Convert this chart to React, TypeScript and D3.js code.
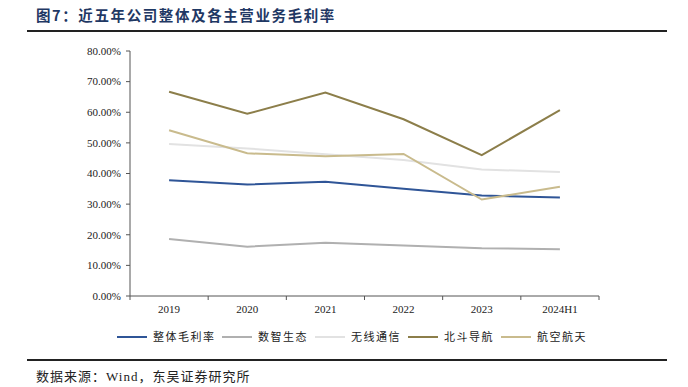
import * as d3 from 'd3';
import React from 'react';

const W = 688;
const H = 387;

const years = ['2019', '2020', '2021', '2022', '2023', '2024H1'];
const yTicks = [0, 10, 20, 30, 40, 50, 60, 70, 80];

const overall = [37.8, 36.4, 37.3, 35.0, 32.8, 32.2];
const digital = [18.6, 16.1, 17.4, 16.5, 15.6, 15.3];
const wireless = [49.6, 48.2, 46.3, 44.4, 41.3, 40.5];
const beidou = [66.7, 59.5, 66.4, 57.7, 46.0, 60.7];
const aerospace = [54.1, 46.6, 45.6, 46.4, 31.5, 35.7];

const seriesNames = ['整体毛利率', '数智生态', '无线通信', '北斗导航', '航空航天'];
const seriesColors = ['#2f5597', '#b0b0b0', '#e2e2e2', '#8c7e4a', '#c9bb8d'];
const seriesValues = [overall, digital, wireless, beidou, aerospace];

const legendX = [117, 222, 315, 408, 501];

const serif = '"Liberation Serif", "Times New Roman", serif';
const cjk = '"Noto Sans CJK SC", sans-serif';

export default function App() {
    const x = d3.scaleBand<string>().domain(years).range([130, 599]);
    const y = d3.scaleLinear().domain([0, 80]).range([296, 51]);

    const line = d3
        .line<number>()
        .x((_, i) => (x(years[i]) ?? 0) + x.bandwidth() / 2)
        .y((d) => y(d));

    const xTickPos = [...years.map((yr) => x(yr) ?? 0), 599];

    return (
        <svg
            width={W}
            height={H}
            style={{ position: 'absolute', left: 0, top: 0, background: '#fff' }}
        >
            <text
                x={36}
                y={21}
                fontFamily={cjk}
                fontWeight={700}
                fontSize={14.5}
                letterSpacing={1.6}
                fill="#1f3864"
            >
                图7：近五年公司整体及各主营业务毛利率
            </text>
            <line x1={27} x2={667} y1={31} y2={31} stroke="#222" strokeWidth={2} />

            {/* y axis */}
            <line x1={130} x2={130} y1={y(80)} y2={y(0)} stroke="#555" />
            {yTicks.map((t) => (
                <g key={t}>
                    <line x1={126} x2={130} y1={y(t)} y2={y(t)} stroke="#555" />
                    <text
                        x={121}
                        y={y(t)}
                        dy="0.35em"
                        textAnchor="end"
                        fontFamily={serif}
                        fontSize={11}
                        fill="#222"
                    >
                        {t.toFixed(2)}%
                    </text>
                </g>
            ))}

            {/* x axis */}
            <line x1={130} x2={599} y1={y(0)} y2={y(0)} stroke="#555" />
            {xTickPos.map((p, i) => (
                <line key={i} x1={p} x2={p} y1={y(0)} y2={y(0) + 4} stroke="#555" />
            ))}
            {years.map((yr) => (
                <text
                    key={yr}
                    x={(x(yr) ?? 0) + x.bandwidth() / 2}
                    y={313}
                    textAnchor="middle"
                    fontFamily={serif}
                    fontSize={11}
                    fill="#222"
                >
                    {yr}
                </text>
            ))}

            {seriesValues.map((vals, i) => (
                <path
                    key={seriesNames[i]}
                    d={line(vals) ?? ''}
                    fill="none"
                    stroke={seriesColors[i]}
                    strokeWidth={2}
                />
            ))}

            {/* legend */}
            {seriesNames.map((name, i) => (
                <g key={name}>
                    <line
                        x1={legendX[i]}
                        x2={legendX[i] + 30}
                        y1={337}
                        y2={337}
                        stroke={seriesColors[i]}
                        strokeWidth={2}
                    />
                    <text
                        x={legendX[i] + 36}
                        y={337}
                        dy="0.35em"
                        fontFamily={cjk}
                        fontSize={11}
                        letterSpacing={1.5}
                        fill="#222"
                    >
                        {name}
                    </text>
                </g>
            ))}

            <line x1={27} x2={667} y1={360} y2={360} stroke="#222" strokeWidth={2} />
            <text x={36} y={381} fontSize={13} letterSpacing={1} fill="#222">
                <tspan fontFamily={cjk}>数据来源：</tspan>
                <tspan fontFamily={serif}>Wind</tspan>
                <tspan fontFamily={cjk}>，东吴证券研究所</tspan>
            </text>
        </svg>
    );
}
